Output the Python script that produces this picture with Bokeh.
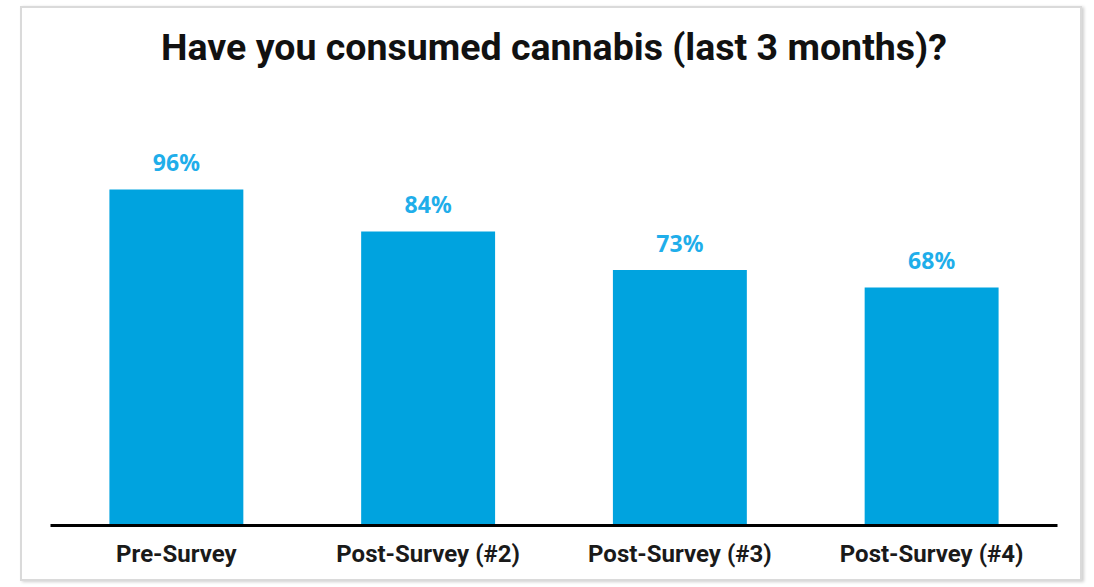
from bokeh.plotting import figure
from bokeh.models import ColumnDataSource, Range1d, FactorRange, LabelSet
from bokeh.embed import file_html
from bokeh.resources import INLINE
from bokeh.core.properties import value

categories = ["Pre-Survey", "Post-Survey (#2)", "Post-Survey (#3)", "Post-Survey (#4)"]
percent_values = [96, 84, 73, 68]
value_labels = ["96%", "84%", "73%", "68%"]
chart_title = "Have you consumed cannabis (last 3 months)?"

src = ColumnDataSource(dict(cat=categories, val=percent_values, lab=value_labels))

W, H = 1062, 575
T = 65
BOTTOM = 58
frame_h = H - T - BOTTOM
p = figure(x_range=FactorRange(*categories), y_range=Range1d(0, frame_h / 3.5),
           width=W, height=H, output_backend="svg", toolbar_location=None,
           min_border_left=28, min_border_right=27, min_border_top=T, min_border_bottom=BOTTOM,
           title=chart_title)
p.styles = {"border": "2px solid #dadada", "margin-left": "20px", "margin-top": "6px",
            "box-shadow": "2px 1px 3px #cfcfcf"}

p.vbar(x="cat", top="val", width=0.532, source=src, fill_color="#00A3DF", line_color=None)

labels = LabelSet(x="cat", y="val", text="lab", source=src, text_align="center",
                  text_baseline="alphabetic", y_offset=18.5, text_font=value("Noto Sans"),
                  text_font_style="bold", text_font_size="23px", text_color="#1FAEEA")
p.add_layout(labels)

p.title.text_font = "Roboto"
p.title.text_font_style = "bold"
p.title.text_font_size = "37.5px"
p.title.align = "center"
p.title.text_color = "#111111"

p.yaxis.visible = False
p.xgrid.grid_line_color = None
p.ygrid.grid_line_color = None
p.outline_line_color = None
p.xaxis.axis_line_width = 3
p.xaxis.axis_line_color = "black"
p.xaxis.major_tick_line_color = None
p.xaxis.minor_tick_line_color = None
p.xaxis.major_label_text_font = "Roboto"
p.xaxis.major_label_text_font_style = "bold"
p.xaxis.major_label_text_font_size = "24px"
p.xaxis.major_label_text_color = "#1a1a1a"
p.xaxis.major_label_standoff = 8

open("out.html", "w").write(file_html(p, INLINE))
